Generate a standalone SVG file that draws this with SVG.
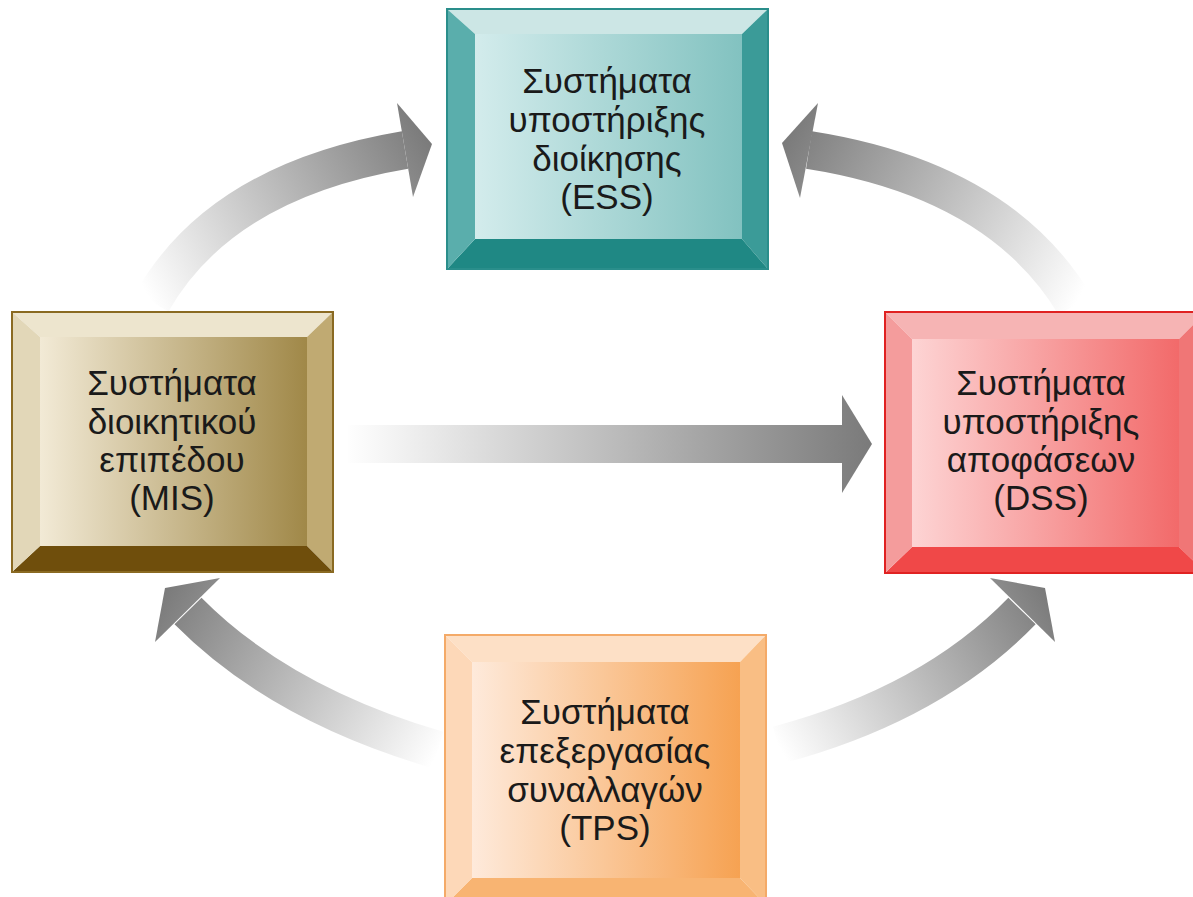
<svg xmlns="http://www.w3.org/2000/svg" width="1193" height="897" viewBox="0 0 1193 897">
<defs>
<style>
.lbl{font-family:"Liberation Sans",Arial,sans-serif;font-size:35px;fill:#1a1a1a;text-anchor:middle}
</style>
<linearGradient id="faceESS" x1="0" y1="0" x2="1" y2="0"><stop offset="0" stop-color="#d3ecec"/><stop offset="1" stop-color="#82c2c0"/></linearGradient>
<linearGradient id="faceMIS" x1="0" y1="0" x2="1" y2="0"><stop offset="0" stop-color="#f2ead6"/><stop offset="1" stop-color="#a08848"/></linearGradient>
<linearGradient id="faceDSS" x1="0" y1="0" x2="1" y2="0"><stop offset="0" stop-color="#fdd4d4"/><stop offset="1" stop-color="#f26a6a"/></linearGradient>
<linearGradient id="faceTPS" x1="0" y1="0" x2="1" y2="0"><stop offset="0" stop-color="#feeadb"/><stop offset="1" stop-color="#f6a252"/></linearGradient>
<linearGradient id="gTL" gradientUnits="userSpaceOnUse" x1="150" y1="300" x2="432" y2="143"><stop offset="0" stop-color="#ffffff"/><stop offset="1" stop-color="#7a7a7a"/></linearGradient>
<linearGradient id="gTR" gradientUnits="userSpaceOnUse" x1="1075" y1="305" x2="782" y2="143"><stop offset="0" stop-color="#ffffff"/><stop offset="1" stop-color="#7a7a7a"/></linearGradient>
<linearGradient id="gM" gradientUnits="userSpaceOnUse" x1="345" y1="444" x2="872" y2="444"><stop offset="0" stop-color="#ffffff"/><stop offset="1" stop-color="#7a7a7a"/></linearGradient>
<linearGradient id="gBL" gradientUnits="userSpaceOnUse" x1="440" y1="750" x2="165" y2="588"><stop offset="0" stop-color="#ffffff"/><stop offset="1" stop-color="#7a7a7a"/></linearGradient>
<linearGradient id="gBR" gradientUnits="userSpaceOnUse" x1="778" y1="745" x2="1045" y2="588"><stop offset="0" stop-color="#ffffff"/><stop offset="1" stop-color="#7a7a7a"/></linearGradient>
</defs>
<rect width="1193" height="897" fill="#ffffff"/>

<g id="connectors">
  <g id="arrow-mis-ess">
    <path d="M152,302 Q221,181 405,150" fill="none" stroke="url(#gTL)" stroke-width="38"/>
    <polygon points="397,103 432,144 413,197" fill="url(#gTL)"/>
  </g>
  <g id="arrow-dss-ess">
    <path d="M1075,305 Q1000,180 809,150" fill="none" stroke="url(#gTR)" stroke-width="38"/>
    <polygon points="818,103 782,143 800,198" fill="url(#gTR)"/>
  </g>
  <g id="arrow-mis-dss">
    <rect x="348" y="425" width="496" height="38" fill="url(#gM)"/>
    <polygon points="842,395 872,444 842,493" fill="url(#gM)"/>
  </g>
  <g id="arrow-tps-mis">
    <path d="M438,750 Q280,704 188,611" fill="none" stroke="url(#gBL)" stroke-width="38"/>
    <polygon points="220,578 165,588 155,642" fill="url(#gBL)"/>
  </g>
  <g id="arrow-tps-dss">
    <path d="M778,745 Q932,704 1022,611" fill="none" stroke="url(#gBR)" stroke-width="38"/>
    <polygon points="990,578 1045,588 1055,642" fill="url(#gBR)"/>
  </g>
</g>

<g id="node-ess">
  <polygon points="447,9 768,9 742,34 475,34" fill="#cce6e5"/>
  <polygon points="768,9 768,269 742,239 742,34" fill="#3b9b98"/>
  <polygon points="447,269 768,269 742,239 475,239" fill="#1f8884"/>
  <polygon points="447,9 475,34 475,239 447,269" fill="#5aaeac"/>
  <rect x="475" y="34" width="267" height="205" fill="url(#faceESS)"/>
  <rect x="447" y="9" width="321" height="260" fill="none" stroke="#2a8e8b" stroke-width="2"/>
  <text class="lbl" x="607" y="93">Συστήματα</text>
  <text class="lbl" x="607" y="132">υποστήριξης</text>
  <text class="lbl" x="607" y="171">διοίκησης</text>
  <text class="lbl" x="607" y="209">(ESS)</text>
</g>

<g id="node-mis">
  <polygon points="12,312 333,312 307,337 40,337" fill="#ede5ce"/>
  <polygon points="333,312 333,572 307,546 307,337" fill="#c0aa72"/>
  <polygon points="12,572 333,572 307,546 40,546" fill="#6f4e0c"/>
  <polygon points="12,312 40,337 40,546 12,572" fill="#e2d7b8"/>
  <rect x="40" y="337" width="267" height="209" fill="url(#faceMIS)"/>
  <rect x="12" y="312" width="321" height="260" fill="none" stroke="#8a6a22" stroke-width="2"/>
  <text class="lbl" x="172" y="395">Συστήματα</text>
  <text class="lbl" x="172" y="434">διοικητικού</text>
  <text class="lbl" x="172" y="472">επιπέδου</text>
  <text class="lbl" x="172" y="510">(MIS)</text>
</g>

<g id="node-dss">
  <polygon points="885,312 1206,312 1179,339 912,339" fill="#f6b4b4"/>
  <polygon points="1206,312 1206,573 1179,547 1179,339" fill="#f07676"/>
  <polygon points="885,573 1206,573 1179,547 912,547" fill="#f04848"/>
  <polygon points="885,312 912,339 912,547 885,573" fill="#f49c9c"/>
  <rect x="912" y="339" width="267" height="208" fill="url(#faceDSS)"/>
  <rect x="885" y="312" width="321" height="261" fill="none" stroke="#e02222" stroke-width="2"/>
  <text class="lbl" x="1041" y="395">Συστήματα</text>
  <text class="lbl" x="1041" y="434">υποστήριξης</text>
  <text class="lbl" x="1041" y="472">αποφάσεων</text>
  <text class="lbl" x="1041" y="510">(DSS)</text>
</g>

<g id="node-tps">
  <polygon points="445,635 766,635 740,662 472,662" fill="#fde0c6"/>
  <polygon points="766,635 766,905 740,878 740,662" fill="#f9be84"/>
  <polygon points="445,905 766,905 740,878 472,878" fill="#f8b472"/>
  <polygon points="445,635 472,662 472,878 445,905" fill="#fdd8b8"/>
  <rect x="472" y="662" width="268" height="216" fill="url(#faceTPS)"/>
  <rect x="445" y="635" width="321" height="270" fill="none" stroke="#f4aa68" stroke-width="2"/>
  <text class="lbl" x="605" y="724">Συστήματα</text>
  <text class="lbl" x="605" y="763">επεξεργασίας</text>
  <text class="lbl" x="605" y="802">συναλλαγών</text>
  <text class="lbl" x="605" y="840">(TPS)</text>
</g>
</svg>
